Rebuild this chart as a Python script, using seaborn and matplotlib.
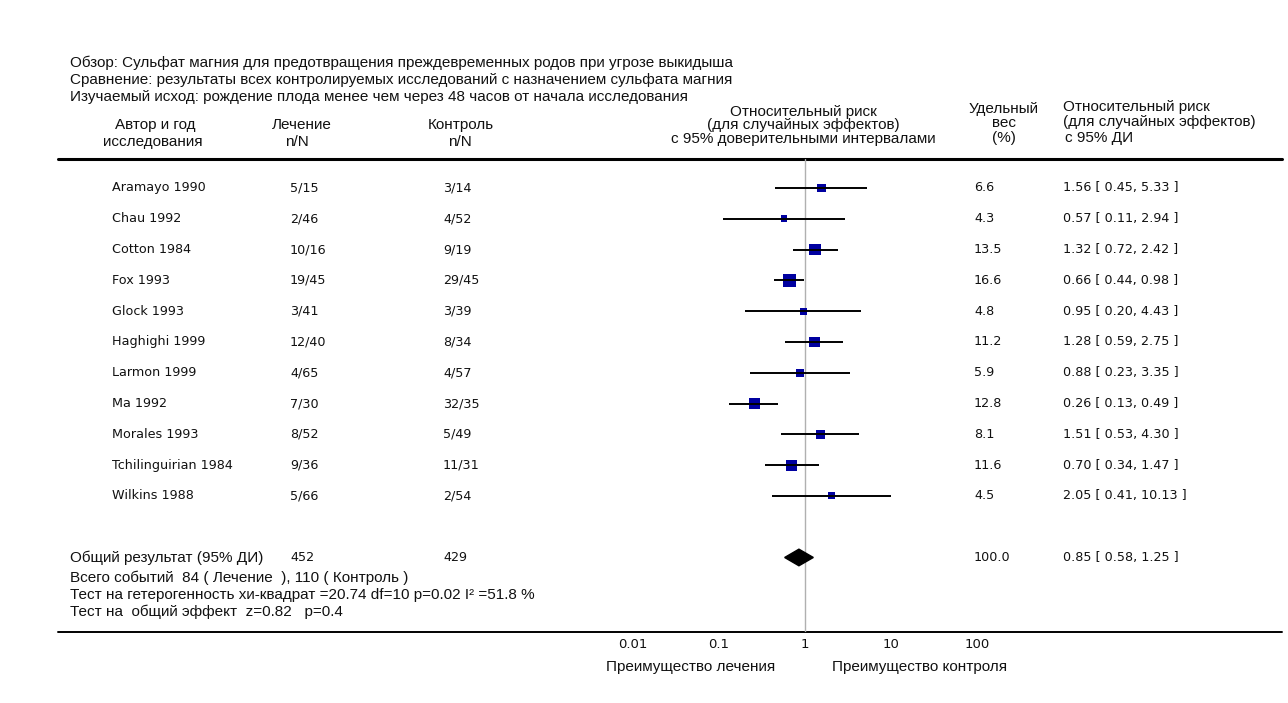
import pandas as pd
import seaborn as sns
import matplotlib.pyplot as plt
from matplotlib import transforms
from matplotlib.font_manager import findfont, FontProperties

# data
studies = ["Aramayo 1990", "Chau 1992", "Cotton 1984", "Fox 1993", "Glock 1993",
           "Haghighi 1999", "Larmon 1999", "Ma 1992", "Morales 1993",
           "Tchilinguirian 1984", "Wilkins 1988"]
treat = ["5/15", "2/46", "10/16", "19/45", "3/41", "12/40", "4/65", "7/30", "8/52", "9/36", "5/66"]
control = ["3/14", "4/52", "9/19", "29/45", "3/39", "8/34", "4/57", "32/35", "5/49", "11/31", "2/54"]
weight = [6.6, 4.3, 13.5, 16.6, 4.8, 11.2, 5.9, 12.8, 8.1, 11.6, 4.5]
rr = [1.56, 0.57, 1.32, 0.66, 0.95, 1.28, 0.88, 0.26, 1.51, 0.70, 2.05]
lo = [0.45, 0.11, 0.72, 0.44, 0.20, 0.59, 0.23, 0.13, 0.53, 0.34, 0.41]
hi = [5.33, 2.94, 2.42, 0.98, 4.43, 2.75, 3.35, 0.49, 4.30, 1.47, 10.13]

total_treat, total_control = 452, 429
total_weight = 100.0
pooled = [0.58, 0.85, 1.25]   # lo, rr, hi
xticks = [0.01, 0.1, 1, 10, 100]
xticklabels = ["0.01", "0.1", "1", "10", "100"]

title_lines = [
    "Обзор: Сульфат магния для предотвращения преждевременных родов при угрозе выкидыша",
    "Сравнение: результаты всех контролируемых исследований с назначением сульфата магния",
    "Изучаемый исход: рождение плода менее чем через 48 часов от начала исследования",
]
stats_lines = [
    "Всего событий  84 ( Лечение  ), 110 ( Контроль )",
    "Тест на гетерогенность хи-квадрат =20.74 df=10 p=0.02 I² =51.8 %",
    "Тест на  общий эффект  z=0.82   p=0.4",
]

sns.set_style("white")
plt.rcParams['font.family'] = ['DejaVu Sans']
plt.rcParams['text.color'] = '#111111'

# narrow font for the headings, if it exists
narrow = 'Liberation Sans Narrow'
k = 1.2
if 'Narrow' not in findfont(FontProperties(family=narrow), fallback_to_default=True):
    narrow = 'Liberation Sans'
    k = 1.0
fs = 11 * k

W, H = 1288, 703
fig = plt.figure(figsize=(W / 100, H / 100), dpi=100)

over = fig.add_axes([0, 0, 1, 1])
over.set_xlim(0, W)
over.set_ylim(H, 0)
over.axis('off')

top, bot = 159, 632
ax = fig.add_axes([633 / W, 1 - bot / H, (977 - 633) / W, (bot - top) / H])
ax.patch.set_alpha(0)

df = pd.DataFrame({'study': studies, 'treat': treat, 'control': control,
                   'weight': weight, 'rr': rr, 'lo': lo, 'hi': hi})
df['row'] = range(len(df))
pool_row = 12

ax.axvline(1, color='#b0b0b0', lw=1, zorder=1)
sns.scatterplot(data=df, x='rr', y='row', size='weight', sizes=(22.8, 88.1),
                marker='s', color='#0000a0', linewidth=0, legend=False, ax=ax, zorder=3)
ax.hlines(df['row'], df['lo'], df['hi'], color='black', lw=1.4, zorder=4)
ax.fill([pooled[0], pooled[1], pooled[2], pooled[1]],
        [pool_row, pool_row - 0.27, pool_row, pool_row + 0.27], color='black', zorder=4)

ax.set_xscale('log')
ax.set_xlim(0.01, 100)
ax.set_ylim(14.42, -0.94)
ax.set_xticks(xticks)
ax.set_xticklabels(xticklabels)
ax.xaxis.set_minor_locator(plt.NullLocator())
ax.set_yticks([])
ax.set_xlabel('')
ax.set_ylabel('')
ax.tick_params(axis='x', direction='in', length=4, width=1, pad=4, labelsize=9.5,
               colors='#111111')
for s in ax.spines.values():
    s.set_visible(False)

# rules
over.plot([58, 1282], [top, top], color='black', lw=2.2)
over.plot([58, 1282], [bot, bot], color='black', lw=1.4)

# titles
for i, t in enumerate(title_lines):
    over.text(70, 63 + 17 * i, t, family=narrow, fontsize=fs, va='center')

# column headers
hd = dict(family=narrow, fontsize=fs, va='center', ha='center')
over.text(155, 125, "Автор и год", **hd)
over.text(153, 142, "исследования", **hd)
over.text(302, 125, "Лечение", **hd)
over.text(297, 142, "n/N", **hd)
over.text(461, 125, "Контроль", **hd)
over.text(460, 142, "n/N", **hd)
over.text(803, 112, "Относительный риск", **hd)
over.text(803, 125, "(для случайных эффектов)", **hd)
over.text(803, 139, "с 95% доверительными интервалами", **hd)
over.text(1004, 109, "Удельный", **hd)
over.text(1004, 123, "вес", **hd)
over.text(1004, 138, "(%)", **hd)
hl = dict(hd, ha='left')
over.text(1063, 107, "Относительный риск", **hl)
over.text(1063, 122, "(для случайных эффектов)", **hl)
over.text(1065, 138, "с 95% ДИ", **hl)

# table rows, x in pixels, y in row units
tr = transforms.blended_transform_factory(over.transData, ax.transData)
cell = dict(transform=tr, fontsize=9.2, va='center', family='DejaVu Sans')
for _, r in df.iterrows():
    over.text(112, r['row'], r['study'], **cell)
    over.text(290, r['row'], r['treat'], **cell)
    over.text(443, r['row'], r['control'], **cell)
    over.text(974, r['row'], f"{r['weight']:.1f}", **cell)
    over.text(1063, r['row'], f"{r['rr']:.2f} [ {r['lo']:.2f}, {r['hi']:.2f} ]", **cell)

over.text(70, pool_row, "Общий результат (95% ДИ)", transform=tr, family=narrow,
          fontsize=fs, va='center')
over.text(290, pool_row, str(total_treat), **cell)
over.text(443, pool_row, str(total_control), **cell)
over.text(974, pool_row, f"{total_weight:.1f}", **cell)
over.text(1063, pool_row, f"{pooled[1]:.2f} [ {pooled[0]:.2f}, {pooled[2]:.2f} ]", **cell)

for i, t in enumerate(stats_lines):
    over.text(70, 578 + 17 * i, t, family=narrow, fontsize=fs, va='center')

over.text(691, 667, "Преимущество лечения", **hd)
over.text(920, 667, "Преимущество контроля", **hd)

fig.savefig('out.png', dpi=100)
